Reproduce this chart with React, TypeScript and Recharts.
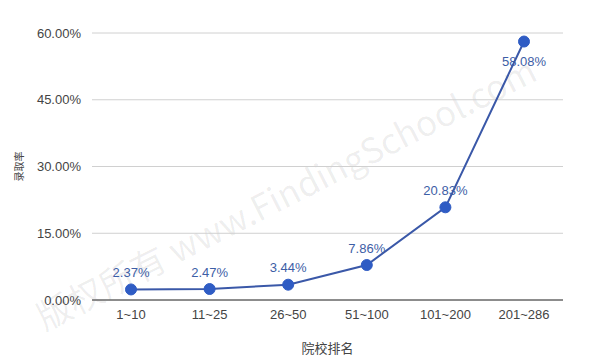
import React from 'react';
import { LineChart, Line, XAxis, YAxis, CartesianGrid, LabelList } from 'recharts';

const categories = ['1~10', '11~25', '26~50', '51~100', '101~200', '201~286'];
const rates = [2.37, 2.47, 3.44, 7.86, 20.83, 58.08];
const yTicks = [0, 15, 30, 45, 60];

const data = categories.map((c, i) => ({ name: c, rate: rates[i] }));

const FONT = '"Liberation Sans", Arial, Helvetica, sans-serif';
const CJK = '"Noto Sans CJK SC", sans-serif';
const LINE = '#3a58a8';
const DOT = '#2f5cc4';

// value labels sit above the points, except the last one which goes below
function RateLabel(props: any) {
  const { x, y, value, index } = props;
  const below = index === rates.length - 1;
  return (
    <text
      x={x}
      y={below ? y + 20 : y - 17}
      textAnchor="middle"
      dominantBaseline="central"
      fill="#3d5ea6"
      fontSize={13}
      fontFamily={FONT}
    >
      {Number(value).toFixed(2)}%
    </text>
  );
}

function YTitle(p: any) {
  const vb = p.viewBox || {};
  const cy = (vb.y ?? 33) + (vb.height ?? 267) / 2;
  return (
    <text
      x={18}
      y={cy}
      transform={`rotate(-90 18 ${cy})`}
      textAnchor="middle"
      dominantBaseline="central"
      fontSize={10}
      fill="#444"
      fontFamily={CJK}
    >
      录取率
    </text>
  );
}

export default function App() {
  return (
    <div style={{ position: 'absolute', left: 0, top: 0, width: 600, height: 363, background: '#fff', overflow: 'hidden' }}>
      {/* faint watermark behind the chart */}
      <div
        style={{
          position: 'absolute',
          left: 38,
          top: 318,
          fontSize: 35,
          lineHeight: '44px',
          color: 'rgba(0,0,0,0.07)',
          whiteSpace: 'nowrap',
          transform: 'translateY(-22px) rotate(-27deg)',
          transformOrigin: '0 50%',
          fontFamily: CJK,
          pointerEvents: 'none',
        }}
      >
        版权所有 www.FindingSchool.com
      </div>
      <div style={{ position: 'absolute', left: 0, top: 0 }}>
        <LineChart width={600} height={363} data={data} margin={{ top: 33, right: 37, left: 0, bottom: 0 }}>
          <CartesianGrid vertical={false} stroke="#d0d0d0" />
          <XAxis
            dataKey="name"
            height={63}
            padding={{ left: 39, right: 39 }}
            axisLine={{ stroke: '#333' }}
            tickLine={false}
            tickSize={0}
            tickMargin={10}
            tick={{ fontSize: 13, fill: '#444', fontFamily: FONT }}
            label={{ value: '院校排名', position: 'insideBottom', offset: 10, fontSize: 13, fill: '#444', fontFamily: CJK }}
          />
          <YAxis
            width={92}
            domain={[0, 60]}
            ticks={yTicks}
            axisLine={false}
            tickLine={false}
            tickSize={0}
            tickMargin={11}
            tickFormatter={(v: number) => `${v.toFixed(2)}%`}
            tick={{ fontSize: 13, fill: '#444', fontFamily: FONT }}
            label={{ content: <YTitle /> }}
          />
          <Line
            type="linear"
            dataKey="rate"
            stroke={LINE}
            strokeWidth={2}
            dot={{ r: 5.5, fill: DOT, stroke: DOT, strokeWidth: 1 }}
            isAnimationActive={false}
          >
            <LabelList dataKey="rate" content={<RateLabel />} />
          </Line>
        </LineChart>
      </div>
    </div>
  );
}
